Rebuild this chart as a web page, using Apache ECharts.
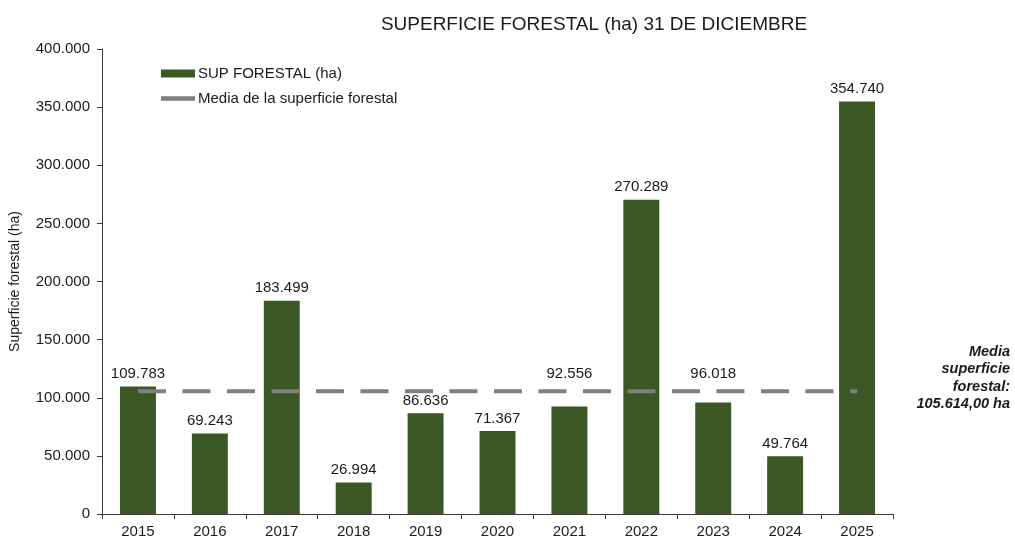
<!DOCTYPE html>
<html>
<head>
<meta charset="utf-8">
<script src="https://cdn.jsdelivr.net/npm/echarts@6/dist/echarts.min.js"></script>
<style>
  html, body { margin: 0; padding: 0; background: #fff; }
  #chart { width: 1015px; height: 539px; }
</style>
</head>
<body>
<div id="chart"></div>
<script>
// Data
const years = ['2015', '2016', '2017', '2018', '2019', '2020', '2021', '2022', '2023', '2024', '2025'];
const superficie = [109783, 69243, 183499, 26994, 86636, 71367, 92556, 270289, 96018, 49764, 354740];
const media = 105614;
const yTicks = [0, 50000, 100000, 150000, 200000, 250000, 300000, 350000, 400000];

// labels lifted above the mean line
const labelLift = { '2021': -20, '2023': -16 };

const fmt = v => Math.round(v).toString().replace(/\B(?=(\d{3})+(?!\d))/g, '.');

const font = 'Liberation Sans, Arial, sans-serif';
const chart = echarts.init(document.getElementById('chart'));

chart.setOption({
  animation: false,
  textStyle: { fontFamily: font },
  title: {
    text: 'SUPERFICIE FORESTAL (ha) 31 DE DICIEMBRE',
    left: 589,
    top: 10,
    textAlign: 'center',
    textStyle: { fontFamily: font, fontSize: 19, fontWeight: 'normal', color: '#1a1a1a' }
  },
  grid: { left: 100, right: 122, top: 49, bottom: 25 },
  legend: {
    orient: 'vertical',
    left: 156,
    top: 61,
    itemGap: 10,
    itemWidth: 34,
    itemHeight: 8,
    textStyle: { fontFamily: font, fontSize: 15, color: '#1a1a1a', padding: [0, 0, 0, -2] },
    data: [
      { name: 'SUP FORESTAL (ha)', icon: 'path://M0,0h34v8h-34z' },
      { name: 'Media de la superficie forestal', icon: 'path://M0,0h30v4h-30z' }
    ]
  },
  xAxis: {
    type: 'category',
    data: years,
    axisLine: { lineStyle: { color: '#3a3a3a', width: 1 } },
    axisTick: { show: true, length: 5, lineStyle: { color: '#3a3a3a' } },
    axisLabel: { fontSize: 15, color: '#1a1a1a', margin: 10 }
  },
  yAxis: {
    type: 'value',
    min: 0,
    max: 400000,
    interval: 50000,
    name: 'Superficie forestal (ha)',
    nameLocation: 'middle',
    nameGap: 80,
    nameTextStyle: { fontSize: 14, color: '#1a1a1a' },
    axisLine: { show: true, lineStyle: { color: '#3a3a3a', width: 1 } },
    axisTick: { show: true, length: 5, lineStyle: { color: '#3a3a3a' } },
    splitLine: { show: false },
    axisLabel: {
      fontSize: 15,
      color: '#1a1a1a',
      margin: 12,
      formatter: v => (yTicks.includes(v) ? fmt(v) : '')
    }
  },
  series: [
    {
      name: 'SUP FORESTAL (ha)',
      type: 'bar',
      barWidth: '50%',
      itemStyle: { color: '#3a5724' },
      label: {
        show: true,
        position: 'top',
        distance: 5,
        fontSize: 15,
        color: '#1a1a1a',
        formatter: p => fmt(p.value)
      },
      data: superficie.map((v, i) => {
        const lift = labelLift[years[i]];
        return lift ? { value: v, label: { offset: [0, lift] } } : v;
      })
    },
    {
      name: 'Media de la superficie forestal',
      type: 'line',
      symbol: 'none',
      z: 5,
      itemStyle: { color: '#7f7f7f' },
      lineStyle: { color: '#7f7f7f', width: 4, type: [28, 16.5] },
      data: years.map(() => media)
    }
  ],
  graphic: [
    {
      type: 'text',
      x: 1010,
      y: 343,
      style: {
        text: 'Media\nsuperficie\nforestal:\n105.614,00 ha',
        align: 'right',
        font: 'italic bold 14.5px Liberation Sans, Arial, sans-serif',
        lineHeight: 17.5,
        fill: '#1a1a1a'
      }
    }
  ]
});
</script>
</body>
</html>
